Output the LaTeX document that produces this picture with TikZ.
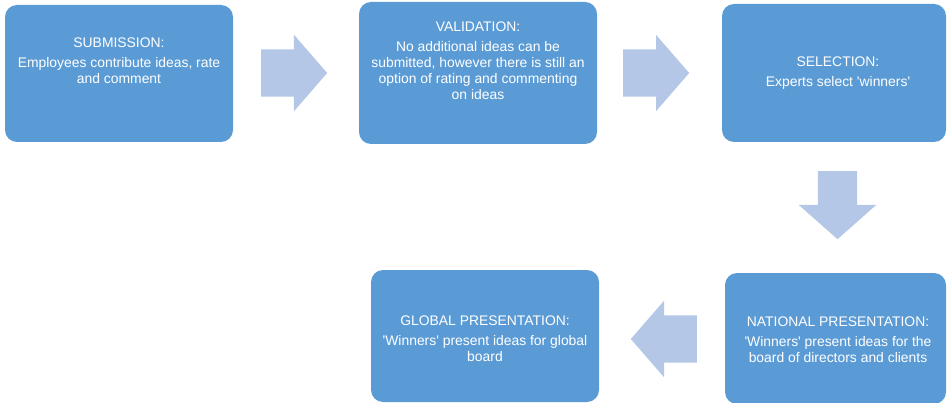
\documentclass[tikz,border=0pt]{standalone}
\usepackage{fontspec}
\setmainfont{Liberation Sans}
\usepackage{tikz}
\usetikzlibrary{shapes.arrows}
\definecolor{boxblue}{HTML}{5B9BD5}
\definecolor{arrowblue}{HTML}{B4C7E7}
\tikzset{
  stage/.style={fill=boxblue, rounded corners=12pt, inner sep=0pt},
  stagetext/.style={text=white, align=center, font=\fontsize{13.9}{16}\selectfont},
  bigarrow/.style={single arrow, fill=arrowblue, anchor=tail, inner xsep=0pt, inner ysep=23.5pt,
    minimum height=66pt, single arrow head extend=14.5pt, single arrow tip angle=98}
}
\begin{document}
\begin{tikzpicture}[x=1pt,y=-1pt]
            \useasboundingbox (0,0) rectangle (947,403);
            \node[stage, minimum width=228pt, minimum height=137pt] (sub) at (119,73.5) {};
            \node[stage, minimum width=238pt, minimum height=142pt] (val) at (478,73) {};
            \node[stage, minimum width=224pt, minimum height=138pt] (sel) at (834,73) {};
            \node[stage, minimum width=221pt, minimum height=131pt] (nat) at (835.5,338.5) {};
            \node[stage, minimum width=228pt, minimum height=132pt] (glob) at (485,336) {};
            \node[stagetext] (subtxt) at (119,61) {SUBMISSION:\\[4pt] Employees contribute ideas, rate\\ and comment};
            \node[stagetext] (valtxt) at (478,60.5) {VALIDATION:\\[4pt] No additional ideas can be\\ submitted, however  there is still an\\ option of rating and commenting\\ on ideas};
            \node[stagetext] (seltxt) at (838,73) {SELECTION:\\[4pt] Experts select \textquotesingle winners\textquotesingle};
            \node[stagetext] (nattxt) at (838,339.5) {NATIONAL  PRESENTATION:\\[4pt] \textquotesingle Winners\textquotesingle\ present  ideas  for  the\\ board  of  directors  and  clients};
            \node[stagetext] (globtxt) at (485,339) {GLOBAL PRESENTATION:\\[4pt] \textquotesingle Winners\textquotesingle\ present ideas for global\\ board};
            \node[bigarrow] (subval) at (261,73) {};
            \node[bigarrow] (valsel) at (623,73) {};
            \node[bigarrow, shape border rotate=270, inner xsep=19.5pt, inner ysep=0pt, minimum height=68pt,
              single arrow head extend=19pt, single arrow tip angle=97] (selnat) at (837.5,171) {};
            \node[bigarrow, shape border rotate=180] (natglob) at (697,339) {};
        \end{tikzpicture}
\end{document}
